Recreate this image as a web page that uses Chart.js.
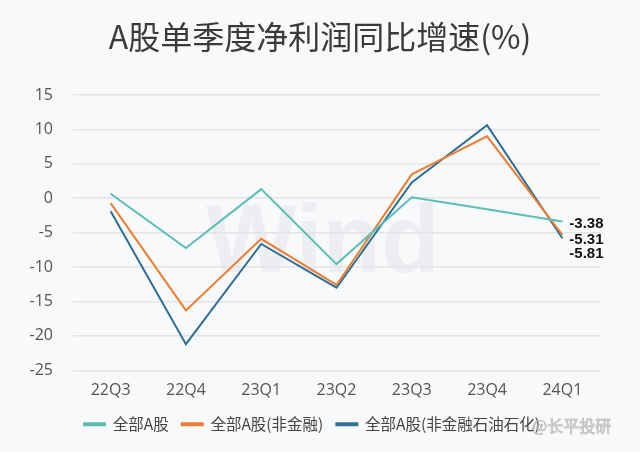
<!DOCTYPE html>
<html lang="zh-CN">
<head>
<meta charset="UTF-8">
<title>A股单季度净利润同比增速</title>
<script src="https://cdn.jsdelivr.net/npm/chart.js"></script>
<style>
  html, body { margin: 0; padding: 0; background: #f8f9fb; }
  #box { width: 640px; height: 452px; }
</style>
</head>
<body>
<div id="box"><canvas id="grafico"></canvas></div>

<script>
// dados
var quarters = ['22Q3', '22Q4', '23Q1', '23Q2', '23Q3', '23Q4', '24Q1'];
var allA = [0.65, -7.23, 1.32, -9.57, 0.15, -1.6, -3.38];
var nonFin = [-0.72, -16.3, -5.9, -12.6, 3.47, 9.0, -5.31];
var nonFinPetro = [-1.89, -21.2, -6.65, -13.0, 2.3, 10.6, -5.81];
var seriesNames = ['全部A股', '全部A股(非金融)', '全部A股(非金融石油石化)'];
var yTicks = [15, 10, 5, 0, -5, -10, -15, -20, -25];
var titulo = 'A股单季度净利润同比增速(%)';

var cores = ['#5dbdb6', '#ed7d31', '#2c6f95'];
var endLabelShift = [2, 5, 16];

// fundo, título e marca d'água
const fundo = {
    id: 'fundo',
    beforeDraw(chart) {
        const ctx = chart.ctx;
        ctx.save();
        ctx.fillStyle = '#f8f9fb';
        ctx.fillRect(0, 0, chart.width, chart.height);
        ctx.font = 'bold 96px "Liberation Sans", Arial, sans-serif';
        ctx.fillStyle = '#eceef1';
        ctx.textAlign = 'left';
        ctx.textBaseline = 'alphabetic';
        ctx.fillText('Wind', 206, 272);

        ctx.font = '32px "Noto Sans CJK SC", sans-serif';
        ctx.fillStyle = '#3a3a3a';
        ctx.textAlign = 'center';
        ctx.textBaseline = 'middle';
        ctx.fillText(titulo, chart.width / 2, 37);
        ctx.restore();
    }
};

// rótulos do último ponto
const rotulosFinais = {
    id: 'rotulosFinais',
    afterDatasetsDraw(chart) {
        const ctx = chart.ctx;
        ctx.save();
        ctx.font = 'bold 15px "Liberation Sans", Arial, sans-serif';
        ctx.fillStyle = '#111111';
        ctx.textAlign = 'left';
        ctx.textBaseline = 'middle';
        chart.data.datasets.forEach(function (ds, i) {
            const meta = chart.getDatasetMeta(i);
            const p = meta.data[meta.data.length - 1];
            const v = ds.data[ds.data.length - 1];
            ctx.fillText(v.toFixed(2), p.x + 7, p.y + endLabelShift[i]);
        });
        ctx.restore();
    },
    afterDraw(chart) {
        const ctx = chart.ctx;
        ctx.save();
        ctx.font = '16px "Noto Sans CJK SC", sans-serif';
        ctx.fillStyle = 'rgba(200,200,200,0.85)';
        ctx.strokeStyle = 'rgba(90,90,90,0.5)';
        ctx.lineWidth = 0.6;
        ctx.textAlign = 'left';
        ctx.textBaseline = 'middle';
        ctx.strokeText('@长平投研', 532, 426);
        ctx.fillText('@长平投研', 532, 426);
        ctx.restore();
    }
};

var datasets = [allA, nonFin, nonFinPetro].map(function (serie, i) {
    return {
        label: seriesNames[i],
        data: serie,
        borderColor: cores[i],
        backgroundColor: cores[i],
        borderWidth: 2,
        pointRadius: 0,
        tension: 0,
        fill: false
    };
});

const config = {
    type: 'line',
    data: { labels: quarters, datasets: datasets },
    options: {
        responsive: false,
        animation: false,
        layout: { padding: { left: 24, right: 40, top: 95, bottom: 10 } },
        plugins: {
            title: { display: false },
            legend: {
                position: 'bottom',
                labels: {
                    color: '#444444',
                    font: { family: '"Noto Sans CJK SC", sans-serif', size: 15.5 },
                    boxWidth: 21,
                    boxHeight: 2,
                    padding: 13
                }
            },
            tooltip: { enabled: false }
        },
        scales: {
            x: {
                offset: true,
                grid: { display: false },
                border: { display: false },
                ticks: {
                    color: '#555555',
                    padding: 3,
                    font: { family: '"Open Sans", sans-serif', size: 16 }
                }
            },
            y: {
                min: -25,
                max: 15,
                afterFit: function (scale) { scale.width = 49; },
                afterBuildTicks: function (scale) {
                    scale.ticks = yTicks.map(function (v) { return { value: v }; });
                },
                grid: { color: '#e3e4e6', lineWidth: 1.5, drawTicks: false },
                border: { display: false },
                ticks: {
                    color: '#555555',
                    padding: 20,
                    font: { family: '"Open Sans", sans-serif', size: 16 }
                }
            }
        }
    },
    plugins: [fundo, rotulosFinais]
};

let ctx = document.getElementById('grafico').getContext('2d');
document.getElementById('grafico').width = 640;
document.getElementById('grafico').height = 452;
let myChart = new Chart(ctx, config);
</script>
</body>
</html>
